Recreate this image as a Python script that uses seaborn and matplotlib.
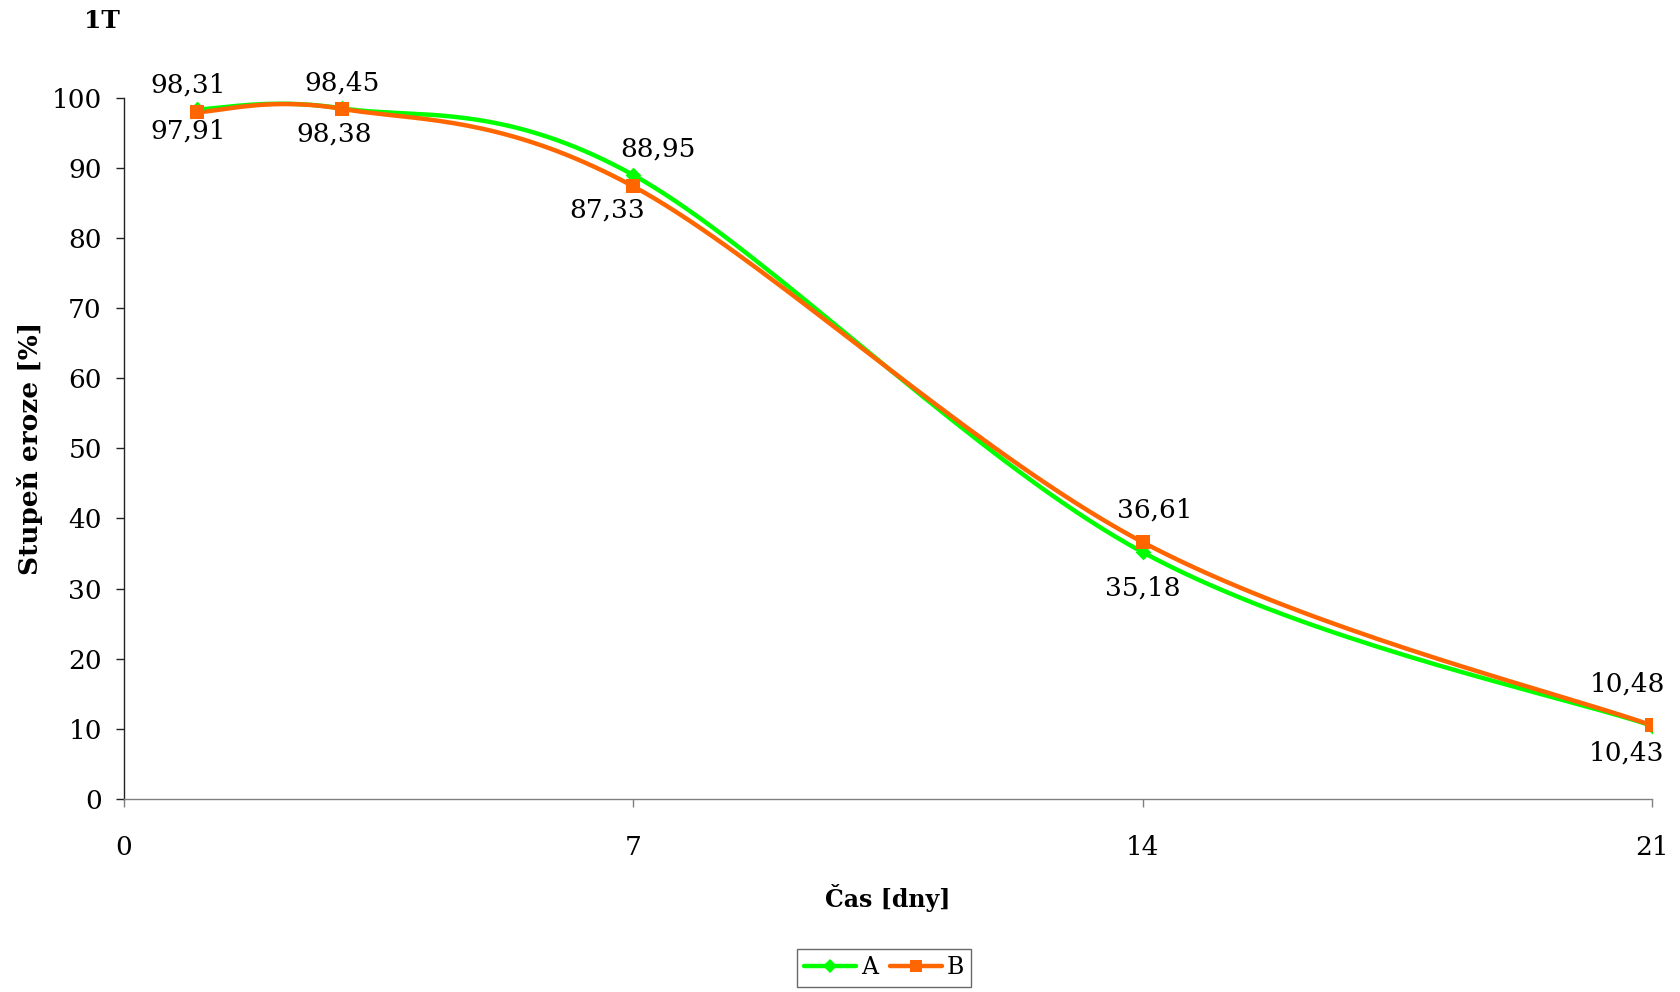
import numpy as np
import pandas as pd
import matplotlib
matplotlib.use("Agg")
import matplotlib.pyplot as plt
import seaborn as sns

# ---- data ----
days = [1, 3, 7, 14, 21]
series_a = [98.31, 98.45, 88.95, 35.18, 10.43]
series_b = [97.91, 98.38, 87.33, 36.61, 10.48]
series_names = ["A", "B"]
x_ticks = [0, 7, 14, 21]
y_ticks = list(range(0, 101, 10))
title_text = "1T"
x_label = "Čas [dny]"
y_label = "Stupeň eroze [%]"

# ---- style ----
sns.set_style("ticks")
plt.rcParams['font.family'] = ['DejaVu Serif', 'DejaVu Sans']
plt.rcParams['text.color'] = 'black'
plt.rcParams['axes.labelcolor'] = 'black'
plt.rcParams['xtick.color'] = 'black'
plt.rcParams['ytick.color'] = 'black'
colors = {"A": "#00FF00", "B": "#FF6600"}
markers = {"A": "D", "B": "s"}
msize = {"A": 8, "B": 10}
# label offsets in pixels (dx, dy) per point
offs = {
    "A": [(-9, 24), (0, 25), (25, 26), (0, -36), (-25, -27)],
    "B": [(-9, -19), (-8, -25), (-26, -24), (12, 32), (-25, 41)],
}


def smooth(x, y, n=40):
    """Excel-like smoothed line (Catmull-Rom Bezier) through the data points."""
    x = np.asarray(x, float)
    y = np.asarray(y, float)
    px = np.concatenate([[x[0]], x, [x[-1]]])
    py = np.concatenate([[y[0]], y, [y[-1]]])
    xs, ys = [], []
    t = np.linspace(0, 1, n)
    for i in range(1, len(px) - 2):
        p0 = np.array([px[i], py[i]])
        p3 = np.array([px[i + 1], py[i + 1]])
        p1 = p0 + (np.array([px[i + 1], py[i + 1]]) - np.array([px[i - 1], py[i - 1]])) / 6
        p2 = p3 - (np.array([px[i + 2], py[i + 2]]) - np.array([px[i], py[i]])) / 6
        b = ((1 - t) ** 3)[:, None] * p0 + (3 * (1 - t) ** 2 * t)[:, None] * p1 \
            + (3 * (1 - t) * t ** 2)[:, None] * p2 + (t ** 3)[:, None] * p3
        xs.extend(b[:, 0])
        ys.extend(b[:, 1])
    return np.array(xs), np.array(ys)


fig = plt.figure(figsize=(16.8, 9.92), dpi=100)
ax = fig.add_axes([0.0738, 0.1946, 0.9095, 0.7071])

data = {"A": series_a, "B": series_b}
for name in series_names:
    sx, sy = smooth(days, data[name])
    df_line = pd.DataFrame({"x": sx, "y": sy})
    sns.lineplot(data=df_line, x="x", y="y", ax=ax, color=colors[name], lw=3.2,
                 sort=False, estimator=None, zorder=3)
    df_pts = pd.DataFrame({"x": days, "y": data[name]})
    sns.scatterplot(data=df_pts, x="x", y="y", ax=ax, color=colors[name],
                    marker=markers[name], s=msize[name] ** 2, edgecolor=colors[name],
                    linewidth=0, zorder=4)
    for (xv, yv), (dx, dy) in zip(zip(days, data[name]), offs[name]):
        ax.annotate(f"{yv:.2f}".replace(".", ","), (xv, yv), xytext=(dx, dy),
                    textcoords="offset pixels", ha="center", va="center",
                    fontsize=19, color="black", zorder=5)

ax.set_xlim(0, 21)
ax.set_ylim(0, 100)
ax.set_xticks(x_ticks)
ax.set_yticks(y_ticks)
ax.tick_params(axis="both", labelsize=19, length=6, width=1, labelcolor="black")
ax.tick_params(axis="y", pad=10, color="#222222")
ax.tick_params(axis="x", pad=20, color="#808080")
sns.despine(ax=ax)
ax.spines["left"].set_color("#222222")
ax.spines["bottom"].set_color("#808080")
for s in ["left", "bottom"]:
    ax.spines[s].set_linewidth(1)

ax.set_xlabel(x_label, fontsize=17, fontweight="bold", color="black")
ax.set_ylabel(y_label, fontsize=19, fontweight="bold", color="black")
ax.xaxis.set_label_coords(0.5, -0.121)
ax.yaxis.set_label_coords(-0.053, 0.5)

fig.text(102 / 1680, 1 - 21 / 992, title_text, fontsize=18, fontweight="bold",
         ha="center", va="center", color="black")

handles = [plt.Line2D([], [], color=colors[n], lw=3.2, marker=markers[n],
                      markersize=msize[n] * 0.9, markeredgewidth=0) for n in series_names]
leg = fig.legend(handles, series_names, loc="center", bbox_to_anchor=(884 / 1680, 1 - 968 / 992),
                 ncol=2, frameon=True, fancybox=False, edgecolor="#444444", fontsize=17,
                 handlelength=2.2, handletextpad=0.2, columnspacing=0.5, borderpad=0.3)
leg.get_frame().set_linewidth(1)
for t in leg.get_texts():
    t.set_color("black")

fig.savefig("out.png", dpi=100, facecolor="white")
